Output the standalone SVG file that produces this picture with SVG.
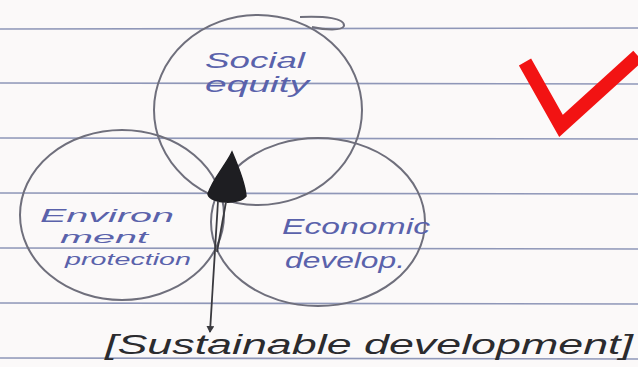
<svg xmlns="http://www.w3.org/2000/svg" width="638" height="367" viewBox="0 0 638 367">
<style>
.rule{stroke:#8f97b8;stroke-width:1.6}
.circ{fill:none;stroke:#6f6f7c;stroke-width:2}
.lbl{font-family:"Liberation Sans",Arial,sans-serif;font-style:italic;fill:#5a62ab;font-size:22px}
.env{font-size:19px}
.sm{font-size:17px}
.main{font-family:"Liberation Sans",Arial,sans-serif;font-style:italic;fill:#2b2b2e;font-size:27px}
.conn{stroke:#3a3a3f;stroke-width:1.8;fill:none}
</style>
<defs>
<marker id="ah" markerWidth="8" markerHeight="8" refX="6" refY="4" orient="auto" markerUnits="userSpaceOnUse">
<path d="M0,0 L7,4 L0,8 Z" fill="#3a3a3f"/>
</marker>
</defs>
<rect width="638" height="367" fill="#fbf9f9"/>
<g id="rules">
<line class="rule" x1="0" y1="29" x2="638" y2="28"/>
<line class="rule" x1="0" y1="83" x2="638" y2="84"/>
<line class="rule" x1="0" y1="138" x2="638" y2="139"/>
<line class="rule" x1="0" y1="193" x2="638" y2="194"/>
<line class="rule" x1="0" y1="248" x2="638" y2="249"/>
<line class="rule" x1="0" y1="303" x2="638" y2="304"/>
<line class="rule" x1="0" y1="358" x2="638" y2="359"/>
</g>
<g id="social">
<ellipse class="circ" cx="258" cy="110" rx="104" ry="95"/>
<path class="circ" d="M300,17 C325,16 345,18 344,26 C342,31 325,30 312,27"/>
<text class="lbl" x="205" y="68" textLength="100" lengthAdjust="spacingAndGlyphs">Social</text>
<text class="lbl" x="205" y="92" textLength="104" lengthAdjust="spacingAndGlyphs">equity</text>
</g>
<g id="environment">
<ellipse class="circ" cx="122" cy="215" rx="102" ry="85"/>
<text class="lbl env" x="40" y="222" textLength="134" lengthAdjust="spacingAndGlyphs">Environ</text>
<text class="lbl sm" x="60" y="243" textLength="88" lengthAdjust="spacingAndGlyphs">ment</text>
<text class="lbl sm" x="65" y="265" textLength="126" lengthAdjust="spacingAndGlyphs">protection</text>
</g>
<g id="economic">
<ellipse class="circ" cx="318" cy="222" rx="107" ry="84"/>
<text class="lbl" x="282" y="234" textLength="148" lengthAdjust="spacingAndGlyphs">Economic</text>
<text class="lbl" x="285" y="268" textLength="120" lengthAdjust="spacingAndGlyphs">develop.</text>
</g>
<g id="intersection">
<path d="M232,152 C226,165 212,180 208,194 C210,204 240,205 246,196 C245,183 238,166 232,152 Z" fill="#1e1e22" stroke="#1e1e22" stroke-width="1.5"/>
</g>
<g id="connectors">
<path class="conn" d="M218,201 L210,332" marker-end="url(#ah)"/>
<path class="conn" d="M226,202 L217,252" stroke-width="1.2"/>
</g>
<g id="sustainable">
<text class="main" x="105" y="354" textLength="528" lengthAdjust="spacingAndGlyphs">[Sustainable development]</text>
</g>
<g id="check">
<path d="M525,62 L561,126 L638,56" fill="none" stroke="#f21313" stroke-width="14" stroke-linejoin="miter"/>
</g>
</svg>
